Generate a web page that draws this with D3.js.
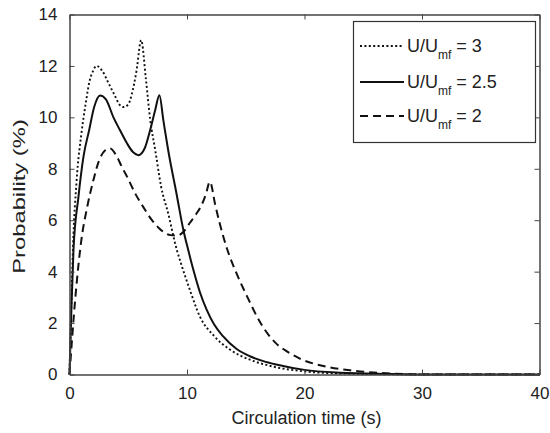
<!DOCTYPE html>
<html><head><meta charset="utf-8">
<script src="https://cdn.jsdelivr.net/npm/d3@7"></script>
<style>html,body{margin:0;padding:0;background:#fff;}svg{display:block;font-family:"Liberation Sans",Arial,sans-serif;}</style>
</head><body>
<svg id="chart" width="550" height="433"></svg>
<script>
// ---- data ----
const timeU3 = [0,0.15,0.3,0.6,1.05,1.4,1.7,2.0,2.3,2.8,3.3,3.8,4.3,4.6,5.0,5.3,5.7,6.1,6.5,6.87,7.3,7.8,8.39,9.13,9.5,10.2,11.1,12.3,13.65,15.5,17.3,20,23,27,30,40];
const probU3 = [0,2.6,5.0,7.5,9.5,10.6,11.4,11.8,12.0,11.8,11.35,10.9,10.47,10.4,10.5,10.9,11.8,13.0,11.5,9.9,8.72,7.3,6.28,4.85,4.3,3.35,2.25,1.5,0.97,0.55,0.31,0.12,0.04,0.01,0,0];
const timeU25 = [0,0.15,0.34,0.76,1.2,1.67,2.1,2.6,3.1,3.74,4.3,4.88,5.4,5.86,6.4,6.86,7.3,7.65,8.0,8.4,9.1,9.69,10.1,10.54,11.1,11.67,12.3,13.06,14.2,15.35,16.5,17.6,20,23,27,30,40];
const probU25 = [0,2.4,4.85,6.9,8.5,9.5,10.4,10.85,10.7,10.0,9.5,9.0,8.65,8.53,8.8,9.5,10.3,10.86,9.85,8.72,7.05,5.62,4.85,4.07,3.2,2.52,1.95,1.49,1.0,0.71,0.52,0.39,0.18,0.07,0.02,0,0];
const timeU2 = [0,0.5,1.0,1.5,2.0,2.5,3.0,3.46,4.0,4.45,5.0,5.58,6.3,7.0,7.6,8.13,8.6,9.12,9.7,10.25,10.8,11.25,11.6,11.95,12.4,12.8,13.4,14.2,15.1,16.2,17.6,18.5,19.6,21.9,24.1,27,30,40];
const probU2 = [0,3.0,5.2,6.5,7.5,8.3,8.7,8.79,8.5,8.08,7.6,7.05,6.5,6.01,5.7,5.5,5.42,5.4,5.55,5.9,6.25,6.6,7.0,7.5,6.6,5.85,4.9,3.95,3.05,2.05,1.2,0.9,0.62,0.3,0.15,0.05,0,0];
const seriesLabels = ["3","2.5","2"];
const xTicks = [0,10,20,30,40];
const yTicks = [0,2,4,6,8,10,12,14];

// ---- chart ----
const svg = d3.select("#chart");
const x = d3.scaleLinear().domain([0,40]).range([69.5,539.5]);
const y = d3.scaleLinear().domain([0,14]).range([374.5,14.5]);
const frame = "#444";

const series = [
  {t: timeU3, v: probU3, dash: "2,2.4", w: 1.9, label: seriesLabels[0]},
  {t: timeU25, v: probU25, dash: null, w: 2, label: seriesLabels[1]},
  {t: timeU2, v: probU2, dash: "8,5", w: 2, label: seriesLabels[2]}
];

const line = d3.line().x(d=>x(d[0])).y(d=>y(d[1])).curve(d3.curveMonotoneX);
series.forEach(s=>{
  svg.append("path").datum(s.t.map((t,i)=>[t,s.v[i]]))
    .attr("d", line).attr("fill","none").attr("stroke","#111")
    .attr("stroke-width", s.w).attr("stroke-dasharray", s.dash);
});

// axes
const fs = "17px";
const gx = svg.append("g").attr("transform",`translate(0,${y(0)})`)
  .call(d3.axisBottom(x).tickValues(xTicks).tickSizeInner(-5).tickSizeOuter(0).tickPadding(12));
const gy = svg.append("g").attr("transform",`translate(${x(0)},0)`)
  .call(d3.axisLeft(y).tickValues(yTicks).tickSizeInner(-5).tickSizeOuter(0).tickPadding(12));
const gt = svg.append("g").attr("transform",`translate(0,${y(14)})`)
  .call(d3.axisTop(x).tickValues(xTicks).tickSizeInner(-5).tickSizeOuter(0).tickFormat(""));
const gr = svg.append("g").attr("transform",`translate(${x(40)},0)`)
  .call(d3.axisRight(y).tickValues(yTicks).tickSizeInner(-5).tickSizeOuter(0).tickFormat(""));
[gx,gy,gt,gr].forEach(g=>{
  g.select(".domain").attr("stroke",frame).attr("stroke-width",1.5);
  g.selectAll(".tick line").attr("stroke",frame);
  g.selectAll("text").attr("font-size",fs).attr("fill","#222").attr("font-family","Liberation Sans, Arial, sans-serif");
});

svg.append("text").attr("x",(x(0)+x(40))/2 + 2).attr("y",424).attr("text-anchor","middle")
  .attr("font-size","18px").attr("fill","#222").text("Circulation time (s)");
svg.append("text").attr("transform",`translate(25,${(y(0)+y(14))/2 + 2}) rotate(-90) scale(1.4,1)`)
  .attr("text-anchor","middle").attr("font-size","17px").attr("fill","#222").text("Probability (%)");

// legend
const lg = svg.append("g");
lg.append("rect").attr("x",353.5).attr("y",21.5).attr("width",182).attr("height",121)
  .attr("fill","#fff").attr("stroke","#333").attr("stroke-width",1.2);
const rowsY = [46,82,116];
series.forEach((s,i)=>{
  lg.append("line").attr("x1",360).attr("x2",404).attr("y1",rowsY[i]).attr("y2",rowsY[i])
    .attr("stroke","#111").attr("stroke-width",s.w).attr("stroke-dasharray",s.dash);
  const t = lg.append("text").attr("x",407).attr("y",rowsY[i]+6).attr("font-size","18px").attr("fill","#222");
  t.append("tspan").text("U/U");
  t.append("tspan").attr("dy",7).attr("font-size","12px").text("mf");
  t.append("tspan").attr("dy",-7).text(" = " + s.label);
});
</script>
</body></html>
